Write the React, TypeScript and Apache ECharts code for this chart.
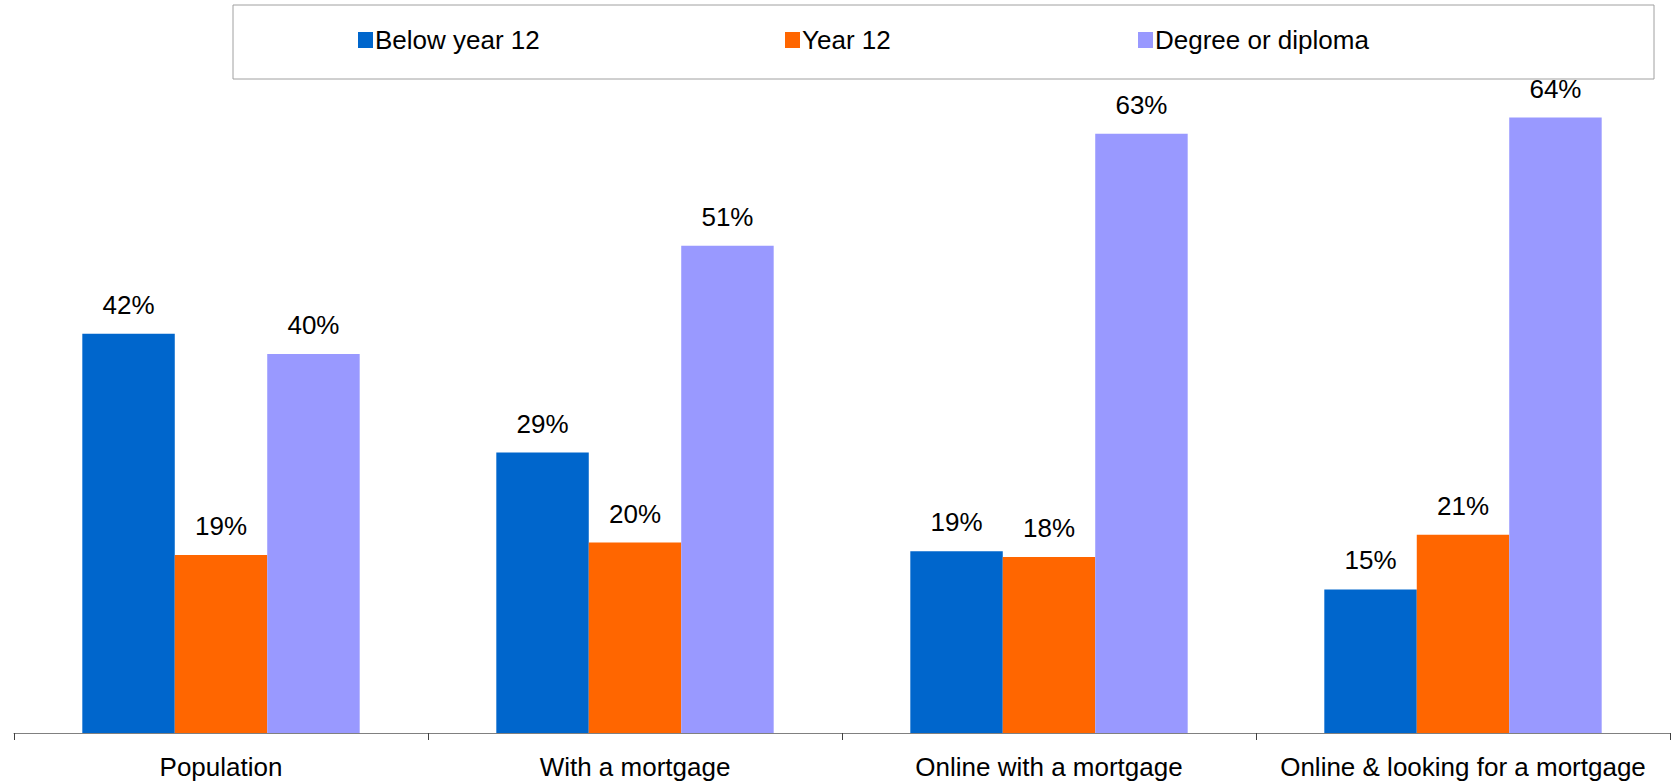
import React, { useEffect, useRef } from "react";
import * as echarts from "echarts";

const categories = ["Population", "With a mortgage", "Online with a mortgage", "Online & looking for a mortgage"];
const belowYear12 = [41.7, 29.3, 19.0, 15.0];
const year12 = [18.6, 19.9, 18.4, 20.7];
const degreeOrDiploma = [39.6, 50.9, 62.6, 64.3];
const seriesNames = ["Below year 12", "Year 12", "Degree or diploma"];
const colors = ["#0066CC", "#FF6600", "#9999FF"];

const FONT = "'Liberation Sans', Arial, sans-serif";

export default function App() {
  const ref = useRef<HTMLDivElement>(null);
  useEffect(() => {
    if (!ref.current) return;
    const chart = echarts.init(ref.current, undefined, { renderer: "svg" });
    const values = [belowYear12, year12, degreeOrDiploma];
    const legendLefts = [353, 780, 1133];
    chart.setOption({
      animation: false,
      textStyle: { fontFamily: FONT },
      graphic: [
        {
          type: "rect",
          shape: { x: 233, y: 5, width: 1421, height: 74 },
          style: { fill: "#fff", stroke: "#A0A0A0", lineWidth: 1 },
          z: -1,
        },
      ],
      legend: seriesNames.map((n, i) => ({
        data: [n],
        left: legendLefts[i],
        top: 22,
        itemWidth: 15,
        itemHeight: 16,
        icon: "rect",
        selectedMode: false,
        textStyle: { fontFamily: FONT, fontSize: 26, color: "#000", padding: [0, 0, 0, -3] },
      })),
      grid: { left: 14, right: 5, top: 63, bottom: 51, containLabel: false },
      xAxis: {
        type: "category",
        data: categories,
        axisLine: { lineStyle: { color: "#808080", width: 1 } },
        axisTick: { show: true, length: 7, lineStyle: { color: "#404040" } },
        axisLabel: { fontFamily: FONT, fontSize: 26, color: "#000", margin: 21, interval: 0 },
      },
      yAxis: {
        type: "value",
        min: 0,
        max: 70,
        show: false,
        splitLine: { show: false },
      },
      series: seriesNames.map((n, i) => ({
        name: n,
        type: "bar",
        data: values[i],
        barGap: "0%",
        barCategoryGap: "33%",
        itemStyle: { color: colors[i] },
        label: {
          show: true,
          position: "top",
          distance: 16,
          formatter: (p: any) => Math.round(p.value) + "%",
          fontFamily: FONT,
          fontSize: 26,
          color: "#000",
        },
      })),
    });
    return () => chart.dispose();
  }, []);
  return (
    <div
      ref={ref}
      style={{ position: "fixed", left: 0, top: 0, width: 1675, height: 784, background: "#fff" }}
    />
  );
}
